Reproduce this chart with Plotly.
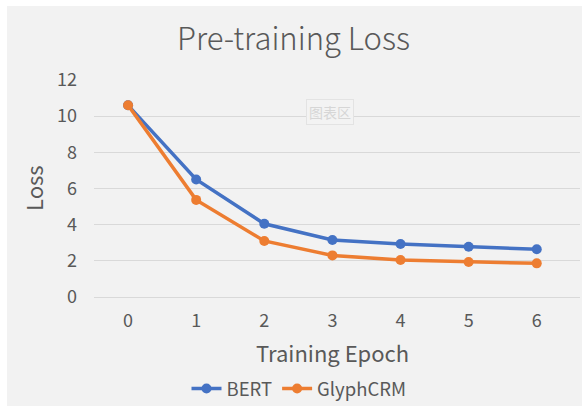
import plotly.graph_objects as go

epochs = [0, 1, 2, 3, 4, 5, 6]
bert_loss = [10.6, 6.5, 4.05, 3.15, 2.93, 2.78, 2.64]
glyphcrm_loss = [10.6, 5.37, 3.1, 2.3, 2.05, 1.94, 1.86]
y_ticks = [0, 2, 4, 6, 8, 10, 12]

FONT = "Noto Sans CJK SC"
TXT = "#595959"

fig = go.Figure()
fig.add_trace(go.Scatter(x=epochs, y=bert_loss, name="BERT", mode="lines+markers",
                         line=dict(color="#4472C4", width=3.5),
                         marker=dict(color="#4472C4", size=10)))
fig.add_trace(go.Scatter(x=epochs, y=glyphcrm_loss, name="GlyphCRM", mode="lines+markers",
                         line=dict(color="#ED7D31", width=3.5),
                         marker=dict(color="#ED7D31", size=10)))

L, R, T, B = 94, 2, 80, 109
W, H = 582, 406
pw, ph = W - L - R, H - T - B

def px(x):
    return (x - L) / pw

def py(y):
    return (H - B - y) / ph

fig.update_layout(
    width=W, height=H,
    margin=dict(l=L, r=R, t=T, b=B, pad=0, autoexpand=False),
    paper_bgcolor="white",
    plot_bgcolor="rgba(0,0,0,0)",
    font=dict(family=FONT, color=TXT),
    showlegend=True,
    legend=dict(orientation="h", x=px(299), xanchor="center", y=py(389), yanchor="middle",
                font=dict(size=18.5, color=TXT), bgcolor="rgba(0,0,0,0)",
                itemwidth=30, tracegroupgap=0),
    xaxis=dict(range=[-0.5, 6.635], tickvals=epochs, ticktext=[str(e) for e in epochs],
               showgrid=False, zeroline=False, showline=False, ticks="",
               tickfont=dict(size=18, color=TXT), ticklabelstandoff=11, fixedrange=True),
    yaxis=dict(range=[0, 12], tickvals=y_ticks, showgrid=True, gridcolor="#D9D9D9", gridwidth=1,
               zeroline=True, zerolinecolor="#D9D9D9", zerolinewidth=1, showline=False, ticks="",
               tickfont=dict(size=18, color=TXT), ticklabelstandoff=16, fixedrange=True),
    shapes=[dict(type="rect", xref="paper", yref="paper",
                 x0=px(7), x1=px(W), y0=py(H), y1=py(6),
                 fillcolor="#F2F2F2", line=dict(width=0), layer="below")],
    annotations=[
        dict(text="Pre-training Loss", xref="paper", yref="paper", x=px(293), y=py(36),
             xanchor="center", yanchor="middle", showarrow=False,
             font=dict(size=31, color=TXT, family=FONT, weight=300)),
        dict(text="Training Epoch", xref="paper", yref="paper", x=px(332), y=py(352),
             xanchor="center", yanchor="middle", showarrow=False,
             font=dict(size=22, color=TXT)),
        dict(text="Loss", xref="paper", yref="paper", x=px(33), y=py(188),
             xanchor="center", yanchor="middle", showarrow=False, textangle=-90,
             font=dict(size=22, color=TXT)),
        dict(text="图表区", xref="paper", yref="paper", x=px(330), y=py(112),
             xanchor="center", yanchor="middle", showarrow=False,
             font=dict(size=14, color="#D6D6D6"), bordercolor="#E3E3E3", borderwidth=1,
             borderpad=2, bgcolor="#F3F3F3"),
    ],
)

post = (
    "document.documentElement.style.overflow='hidden';"
    "document.body.style.margin='0';document.body.style.overflow='hidden';"
    "document.querySelectorAll('.main-svg').forEach(function(s){s.style.overflow='hidden';});"
)
fig.write_html("out.html", config={"displayModeBar": False}, post_script=post)
